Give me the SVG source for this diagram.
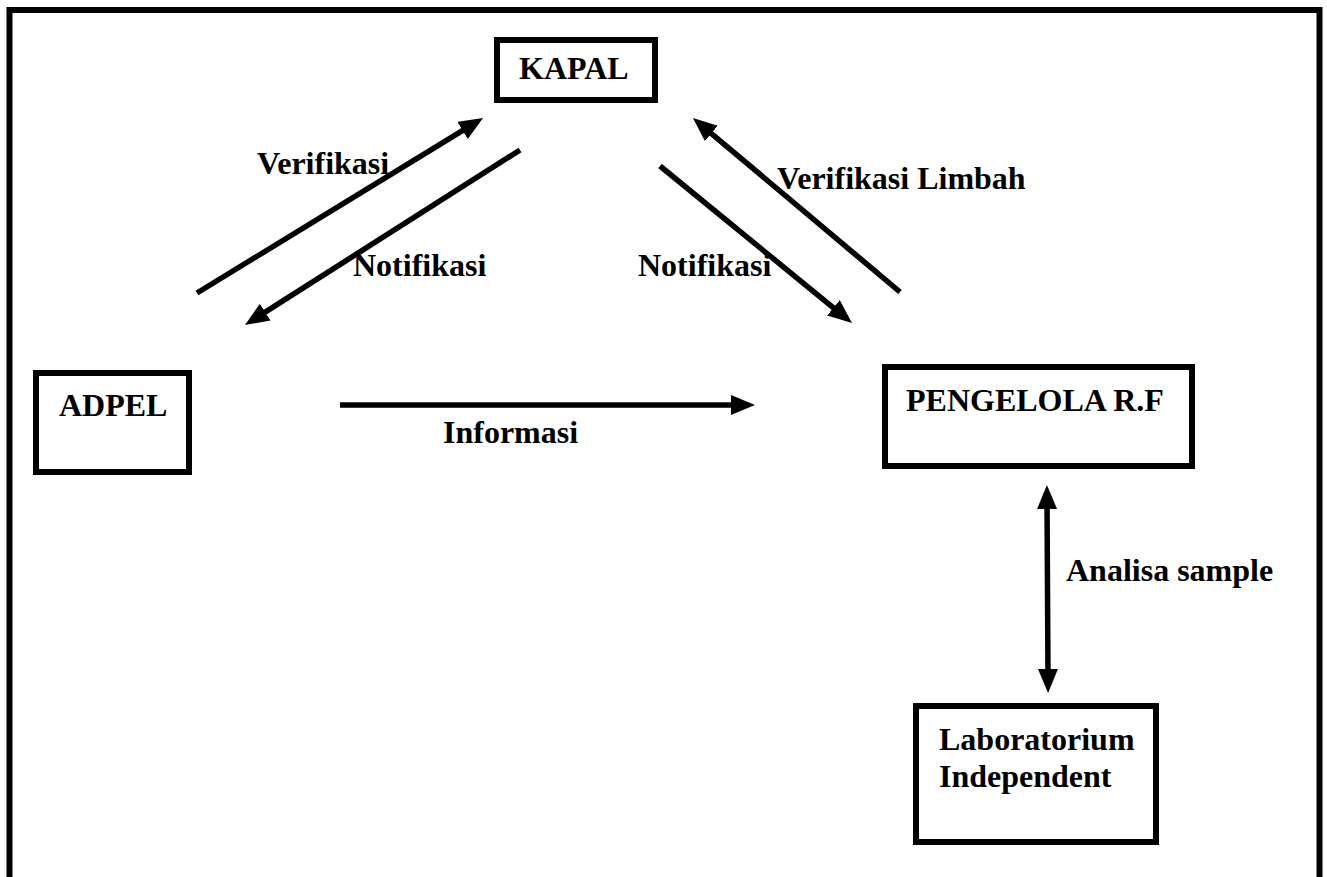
<svg xmlns="http://www.w3.org/2000/svg" width="1327" height="877" viewBox="0 0 1327 877">
<style>
.box{fill:#fff;stroke:#000;stroke-width:6}
.lbl{font-family:"Liberation Serif","Times New Roman",serif;font-weight:bold;font-size:32px;fill:#000}
.ln{stroke:#000;stroke-width:5.5;fill:none}
</style>
<defs>
<marker id="ah" markerUnits="userSpaceOnUse" markerWidth="26" markerHeight="22" refX="8" refY="10" orient="auto-start-reverse" viewBox="0 0 26 22">
<path d="M0,0 L24,10 L0,20 z" fill="#000"/>
</marker>
</defs>
<rect x="9.5" y="10" width="1310" height="900" fill="none" stroke="#000" stroke-width="6"/>
<g id="kapal">
<rect class="box" x="497" y="40" width="158" height="60"/>
<text class="lbl" x="519" y="79">KAPAL</text>
</g>
<g id="adpel">
<rect class="box" x="36" y="373" width="153" height="99"/>
<text class="lbl" x="59" y="416">ADPEL</text>
</g>
<g id="pengelola">
<rect class="box" x="885" y="367" width="307" height="99"/>
<text class="lbl" x="906" y="411">PENGELOLA R.F</text>
</g>
<g id="laboratorium">
<rect class="box" x="916" y="706" width="240" height="136"/>
<text class="lbl" x="939" y="750">Laboratorium</text>
<text class="lbl" x="939" y="787">Independent</text>
</g>
<g id="connectors">
<line class="ln" x1="197" y1="293" x2="469.4" y2="126.3" marker-end="url(#ah)"/>
<line class="ln" x1="520" y1="150" x2="258.5" y2="316.4" marker-end="url(#ah)"/>
<line class="ln" x1="660" y1="166" x2="839.6" y2="312.9" marker-end="url(#ah)"/>
<line class="ln" x1="900" y1="292" x2="705.2" y2="128.3" marker-end="url(#ah)"/>
<line class="ln" x1="340" y1="405" x2="739" y2="405" marker-end="url(#ah)"/>
<line class="ln" x1="1047" y1="501" x2="1048" y2="677" marker-start="url(#ah)" marker-end="url(#ah)"/>
<text class="lbl" x="257" y="174">Verifikasi</text>
<text class="lbl" x="353" y="276">Notifikasi</text>
<text class="lbl" x="638" y="276">Notifikasi</text>
<text class="lbl" x="777" y="189">Verifikasi Limbah</text>
<text class="lbl" x="443" y="443">Informasi</text>
<text class="lbl" x="1066" y="581">Analisa sample</text>
</g>
</svg>
